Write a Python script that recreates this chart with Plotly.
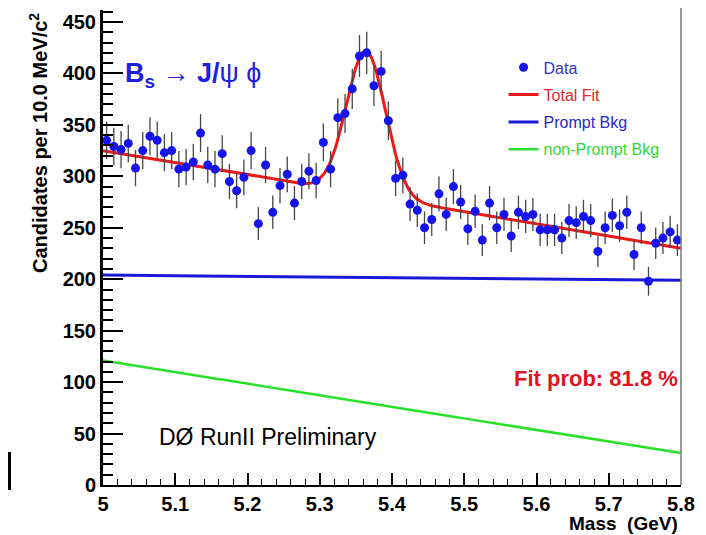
import numpy as np
import plotly.graph_objects as go

# ---------------- data ----------------
bin_lo, bin_w, n_bins = 5.0, 0.01, 80
mass_centers = np.round(bin_lo + bin_w * (np.arange(n_bins) + 0.5), 4)

counts = [335, 329, 326, 332, 308, 325, 339, 335, 323, 325,
          307, 309, 314, 342, 311, 307, 322, 295, 286, 299,
          325, 254, 311, 265, 291, 302, 274, 295, 305, 296,
          333, 307, 357, 361, 385, 417, 420, 388, 402, 354,
          298, 301, 273, 267, 250, 258, 283, 263, 290, 275,
          249, 266, 238, 274, 250, 263, 242, 265, 261, 263,
          248, 248, 248, 240, 257, 255, 261, 257, 227, 250,
          262, 252, 265, 224, 250, 198, 235, 240, 246, 238]
count_errors = np.sqrt(np.array(counts, dtype=float))  # Poisson errors

# fit components
prompt_ends = [204.0, 199.0]      # value at 5.0 and 5.8 GeV
nonprompt_ends = [121.0, 31.0]    # value at 5.0 and 5.8 GeV
signal_amp, signal_mean, signal_sigma = 140.0, 5.364, 0.027

x_tick_vals = [5.0, 5.1, 5.2, 5.3, 5.4, 5.5, 5.6, 5.7, 5.8]
x_tick_text = ["5", "5.1", "5.2", "5.3", "5.4", "5.5", "5.6", "5.7", "5.8"]
y_tick_vals = [0, 50, 100, 150, 200, 250, 300, 350, 400, 450]

# ---------------- model curves ----------------
m = np.linspace(5.0, 5.8, 481)
frac = (m - 5.0) / 0.8
prompt = prompt_ends[0] + (prompt_ends[1] - prompt_ends[0]) * frac
nonprompt = nonprompt_ends[0] + (nonprompt_ends[1] - nonprompt_ends[0]) * frac
signal = signal_amp * np.exp(-0.5 * ((m - signal_mean) / signal_sigma) ** 2)
total = prompt + nonprompt + signal

BLUE = "rgb(20,20,235)"
RED = "rgb(235,25,25)"
LBLUE = "rgb(25,25,215)"
GREEN = "rgb(40,225,40)"

fig = go.Figure()
fig.add_trace(go.Scatter(
    x=m, y=total, mode="lines",
    name='<span style="color:rgb(225,40,40)">Total Fit</span>',
    line=dict(color=RED, width=3), legendgroup="b", legendrank=2))
fig.add_trace(go.Scatter(
    x=m, y=prompt, mode="lines",
    name='<span style="color:rgb(40,40,200)">Prompt Bkg</span>',
    line=dict(color=LBLUE, width=3), legendgroup="c", legendrank=3))
fig.add_trace(go.Scatter(
    x=m, y=nonprompt, mode="lines",
    name='<span style="color:rgb(50,215,50)">non-Prompt Bkg</span>',
    line=dict(color=GREEN, width=2.5), legendgroup="d", legendrank=4))
fig.add_trace(go.Scatter(
    x=mass_centers, y=counts, mode="markers",
    name='<span style="color:rgb(50,50,200)">Data</span>',
    marker=dict(color=BLUE, size=9),
    error_y=dict(type="data", array=count_errors, color="rgb(70,70,70)",
                 thickness=1.3, width=0),
    legendgroup="a", legendrank=1))

FONT = "Liberation Sans, Arial, sans-serif"

# the page body adds an 8 px margin, so the figure is offset for it
fig.update_layout(
    width=698, height=527,
    margin=dict(l=95, r=25, t=2, b=50),
    paper_bgcolor="white", plot_bgcolor="white",
    font=dict(family=FONT, color="black"),
    showlegend=True,
    legend=dict(x=0.693, y=0.915, xanchor="left", yanchor="top",
                bgcolor="rgba(0,0,0,0)", borderwidth=0,
                font=dict(family=FONT, size=16),
                traceorder="grouped", tracegroupgap=3.5,
                itemwidth=30),
    xaxis=dict(range=[5.0, 5.8], showgrid=False, zeroline=False,
               showline=True, linecolor="black", linewidth=2,
               ticks="inside", ticklen=12, tickwidth=1.5, tickcolor="black",
               tickvals=x_tick_vals, ticktext=x_tick_text,
               tickfont=dict(family=FONT, size=20, weight="bold"),
               minor=dict(dtick=0.02, tick0=5.0, ticks="inside", ticklen=6,
                          tickwidth=1.2, tickcolor="black", showgrid=False)),
    yaxis=dict(range=[0, 475 / 1.0289], showgrid=False, zeroline=False,
               showline=True, linecolor="black", linewidth=3,
               ticks="inside", ticklen=20, tickwidth=2, tickcolor="black",
               tickvals=y_tick_vals,
               tickfont=dict(family=FONT, size=20, weight="bold"),
               minor=dict(dtick=10, tick0=0, ticks="inside", ticklen=10,
                          tickwidth=1.5, tickcolor="black", showgrid=False)),
)

fig.add_annotation(xref="paper", yref="paper", x=-0.1125, y=0.72,
                   text="Candidates per 10.0 MeV/c<sup>2</sup>", textangle=-90,
                   showarrow=False, xanchor="center", yanchor="middle",
                   font=dict(family=FONT, size=20, weight="bold"))
fig.add_annotation(xref="paper", yref="paper", x=0.998, y=-0.08,
                   text="Mass  (GeV)", showarrow=False,
                   xanchor="right", yanchor="middle",
                   font=dict(family=FONT, size=19, weight="bold"))
fig.add_annotation(xref="paper", yref="paper", x=0.034, y=0.863,
                   text="<b>B<sub>s</sub> → J/</b>ψ ϕ", showarrow=False,
                   xanchor="left", yanchor="middle",
                   font=dict(family=FONT, size=27, color="rgb(30,30,220)"))
fig.add_annotation(xref="paper", yref="paper", x=0.998, y=0.225,
                   text="Fit prob: 81.8 %", showarrow=False,
                   xanchor="right", yanchor="middle",
                   font=dict(family=FONT, size=22, weight="bold", color="rgb(225,20,30)"))
fig.add_annotation(xref="paper", yref="paper", x=0.0934, y=0.101,
                   text="DØ RunII Preliminary", showarrow=False,
                   xanchor="left", yanchor="middle",
                   font=dict(family=FONT, size=23, color="black"))

# right frame border and stray mark at left edge
fig.add_shape(type="line", xref="paper", yref="paper", x0=1, x1=1, y0=0, y1=1.004,
              line=dict(color="rgb(120,120,120)", width=1.5))
fig.add_shape(type="rect", xref="paper", yref="paper",
              x0=-95 / 578, x1=-92 / 578, y0=-0.0105, y1=0.0695,
              line=dict(width=0), fillcolor="black")

fig.write_html("out.html")
